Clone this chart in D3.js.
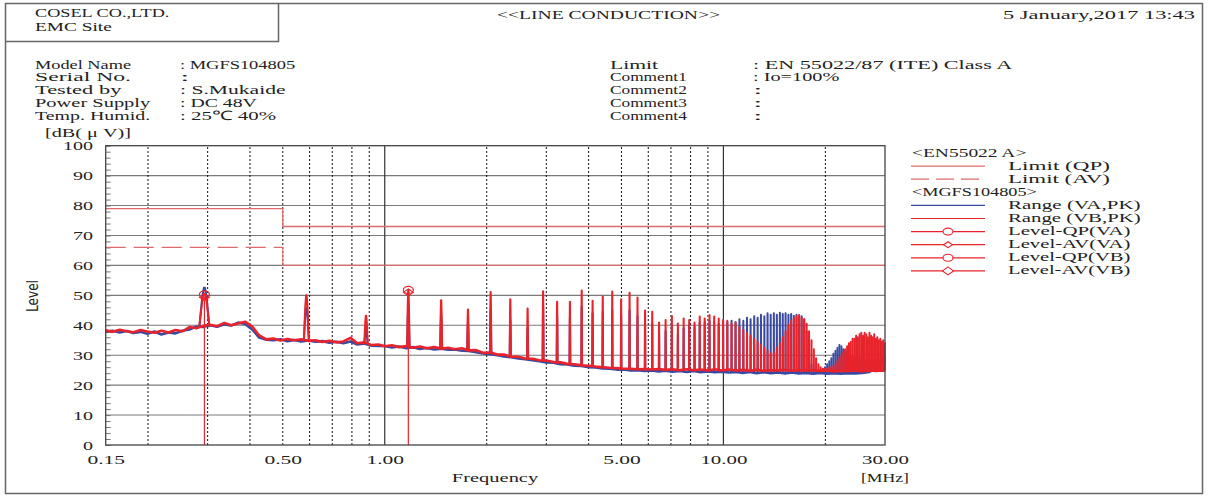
<!DOCTYPE html>
<html><head><meta charset="utf-8">
<script src="https://cdn.jsdelivr.net/npm/d3@7"></script>
<style>
body{margin:0;background:#fff;}
svg text{font-family:"Liberation Serif","Times New Roman",serif;fill:#222;}
</style></head><body>
<svg id="chart" width="1208" height="497"></svg>
<script>
// ---------------- DATA ----------------
const headerLeft = ["COSEL CO.,LTD.", "EMC Site"];
const headerTitle = "<<LINE CONDUCTION>>";
const headerDate = "5 January,2017 13:43";
const infoLeftLabels = ["Model Name","Serial No.","Tested by","Power Supply","Temp. Humid."];
const infoLeftValues = [": MGFS104805",":",": S.Mukaide",": DC 48V",": 25\u2103 40%"];
const infoRightLabels = ["Limit","Comment1","Comment2","Comment3","Comment4"];
const infoRightValues = [": EN 55022/87 (ITE) Class A",": Io=100%",":",":",":"];

const yTicks = [0,10,20,30,40,50,60,70,80,90,100];
const xTickValues = [0.15,0.5,1,5,10,30];
const xTickLabels = ["0.15","0.50","1.00","5.00","10.00","30.00"];
const xDottedGrid = [0.2,0.3,0.4,0.5,0.6,0.7,0.8,0.9,2,3,4,5,6,7,8,9,20];
const xSolidGrid = [1,10];

// limits EN55022 class A
const limitQPFreq = [0.15,0.5,0.5,30];
const limitQPLevel = [79,79,73,73];
const limitAVFreq = [0.15,0.5,0.5,30];
const limitAVLevel = [66,66,60,60];

// measured broadband floor (MHz, dBuV)
const baseFreq = [
  0.150,0.157,0.165,0.173,0.181,0.190,0.199,0.209,0.219,0.230,
  0.241,0.253,0.265,0.278,0.291,0.305,0.320,0.336,0.352,0.369,
  0.387,0.406,0.426,0.447,0.469,0.492,0.516,0.541,0.567,0.595,
  0.624,0.654,0.686,0.720,0.755,0.792,0.830,0.871,0.913,0.958,
  1.00,1.05,1.10,1.16,1.21,1.27,1.33,1.40,1.47,1.54,
  1.61,1.69,1.77,1.86,1.95,2.05,2.15,2.25,2.36,2.48,
  2.60,2.73,2.86,3.00,3.15,3.30,3.46,3.63,3.81,4.00,
  4.19,4.40,4.61,4.84,5.07,5.32,5.58,5.85,6.14,6.44,
  6.75,7.08,7.43,7.79,8.17,8.57,8.99,9.43,9.89,10.4,
  10.9,11.4,12.0,12.5,13.2,13.8,14.5,15.2,15.9,16.7,
  17.5,18.4,19.3,20.2,21.2,22.2,23.3,24.5,25.7,26.9,
  28.2,29.6,30.0];
const baseVB = [
  38.3,37.8,38.5,38.0,37.7,38.4,37.9,37.5,38.2,37.6,
  38.4,38.0,39.4,39.0,39.8,40.2,39.7,40.8,40.0,40.6,
  41.2,39.6,36.6,35.3,35.6,34.9,35.4,35.0,35.3,34.8,
  35.0,34.4,34.8,34.3,34.6,35.8,34.0,34.3,33.4,33.6,
  33.0,33.3,32.7,33.1,32.5,32.9,32.3,32.7,32.2,32.5,
  32.0,32.3,31.6,31.7,30.8,30.9,30.2,30.2,29.5,29.5,
  28.9,28.8,28.3,28.2,27.7,27.6,27.1,27.0,26.6,26.5,
  26.2,26.0,25.8,25.7,25.5,25.5,25.3,25.4,25.2,25.4,
  25.1,25.3,25.0,25.3,25.0,25.2,24.9,25.3,24.9,25.2,
  24.9,25.1,24.8,25.1,24.8,25.0,24.9,25.1,24.8,25.0,
  24.9,25.0,24.7,24.9,24.6,24.8,24.7,24.9,24.6,24.9,
  24.7,24.9,24.7];
const baseVA = [
  37.8,38.2,37.6,38.1,37.4,37.8,37.2,37.9,36.9,37.6,
  37.3,38.2,38.6,39.6,39.4,40.0,39.5,40.3,39.9,40.9,
  40.4,38.6,35.9,35.2,35.0,35.3,34.7,35.1,34.6,34.9,
  34.5,34.7,34.2,34.5,34.0,34.6,33.6,33.9,33.2,33.1,
  33.1,32.6,32.9,32.3,32.7,32.1,32.4,31.9,32.2,31.8,
  31.9,31.5,31.4,31.0,30.6,30.3,30.0,29.6,29.3,28.9,
  28.7,28.3,28.0,27.6,27.5,27.0,26.9,26.5,26.4,26.0,
  25.9,25.6,25.5,25.2,25.2,24.9,25.0,24.7,24.9,24.6,
  24.8,24.5,24.7,24.4,24.7,24.3,24.6,24.3,24.5,24.2,
  24.4,24.1,24.4,24.0,24.3,24.0,24.2,23.9,24.2,23.9,
  24.1,23.8,24.1,23.8,24.0,23.8,24.0,23.9,24.1,24.4,
  25.6,26.6,27.4];

// switching harmonics (MHz) and their peak levels (dBuV)
const harmFreq = [0.2935,0.587,0.8805,1.174,1.4675,1.761,2.0545,2.348,2.6415,2.935,3.2285,3.522,3.8155,4.109,4.4025,4.696,4.9895,5.283,5.5765,5.870,6.1635,6.457,6.7505,7.044,7.3375,7.631,7.9245,8.218,8.5115,8.805,9.0985,9.392,9.6855,9.979,10.27,10.57,10.86,11.15,11.45,11.74,12.03,12.33,12.62,12.91,13.21,13.50,13.79,14.09,14.38,14.68,14.97,15.26,15.56,15.85,16.14,16.44,16.73,17.02,17.32,17.61,17.90,18.20,18.49,18.78,19.08,19.37,19.66,19.96,20.25,20.55,20.84,21.13,21.43,21.72,22.01,22.31,22.60,22.89,23.19,23.48,23.77,24.07,24.36,24.65,24.95,25.24,25.53,25.83,26.12,26.42,26.71,27.00,27.30,27.59,27.88,28.18,28.47,28.76,29.06,29.35,29.64,29.94];
const peakVB = [50.5,50.0,43.2,51.8,48.4,45.3,51.1,48.7,45.6,51.4,47.9,47.9,51.6,48.2,49.6,51.3,48.7,50.9,49.3,44.9,44.5,40.9,41.8,43.1,40.6,42.3,41.8,40.9,42.9,42.3,43.4,42.9,42.3,41.8,
  41.5,40.5,41,39.5,38.5,37.5,36.5,35.5,34.5,33.5,32.5,31.5,30.5,31,32.5,34,36,38,40,41.5,42.5,43,43.4,42.5,42,40.5,38,35,32,29,27,26,25.5,25.5,25.5,26,26,26.5,27,28,29,30,31,32,33,34,34.5,35.5,35.5,36.5,36,37,37.5,36.5,37.5,37,36,37.5,36.5,36,37,35.5,36,35,35.5,34.5,35,34];
const peakVA = [52.5,45.7,38.4,46.0,43.0,40.7,45.0,41.8,39.0,46.0,42.9,42.4,46.2,44.0,44.5,45.0,43.5,45.0,43.0,40.0,40.5,37.0,38.0,39.0,37.0,39.0,40.0,39.5,41.0,41.0,41.5,41.0,40.5,41.0,
  41,41.5,41,42,41.5,42.5,42,43,42.5,43.5,43,44,43.5,44,43.5,44.2,43.8,44,43.5,43.8,43.2,43.5,42.8,43,42,38,32,27,25.5,25,25,25,25.5,26,27,28,29,30.5,31.5,32.5,33.4,33,32,31.5,31,30.5,30,29.5,29.5,29,29,29,28.5,28.5,28.5,28.5,28,28,28,28,28,28,28.5,28.5,28.5,29,29,29];

// final measurement markers (VB)
const markerFreq = [0.2935,1.174];
const markerQP = [50.3,51.8];
const markerAV = [49.4,51.0];

const legendItems = [
  {label:"<EN55022 A>", type:"head"},
  {label:"Limit (QP)", type:"line", color:"#e06a6a"},
  {label:"Limit (AV)", type:"dash", color:"#e06a6a"},
  {label:"<MGFS104805>", type:"head"},
  {label:"Range (VA,PK)", type:"line", color:"#3a4aa0"},
  {label:"Range (VB,PK)", type:"line", color:"#e8232b"},
  {label:"Level-QP(VA)", type:"circle", color:"#e8232b"},
  {label:"Level-AV(VA)", type:"diamondS", color:"#e8232b"},
  {label:"Level-QP(VB)", type:"circle", color:"#e8232b"},
  {label:"Level-AV(VB)", type:"diamond", color:"#e8232b"}
];

// ---------------- DRAW ----------------
const svg = d3.select("#chart");
const CW = 9.6, FS = 13;
const RED = "#e8232b", BLUE = "#3a4aa0", LIM = "#e06a6a";
function units(s){ let u=0; for(const ch of s){ u += ch.charCodeAt(0) > 0x2000 ? 2 : 1; } return u; }
function txt(g, s, x, y, o={}){
  const t = g.append("text").attr("x",x).attr("y",y).text(s)
    .attr("font-size", o.fs||FS)
    .attr("textLength", o.len || units(s)*(o.cw||CW))
    .attr("lengthAdjust","spacingAndGlyphs");
  if(o.anchor) t.attr("text-anchor",o.anchor);
  return t;
}

// frames
svg.append("rect").attr("x",5.5).attr("y",3.5).attr("width",1197).attr("height",490)
  .attr("fill","none").attr("stroke","#666").attr("stroke-width",1.5);
svg.append("path").attr("d","M5.5,41.5H278.5V3.5").attr("fill","none").attr("stroke","#666").attr("stroke-width",1.5);

txt(svg, headerLeft[0], 35, 17);
txt(svg, headerLeft[1], 35, 31);
txt(svg, headerTitle, 497, 19, {len:223});
txt(svg, headerDate, 1195, 19, {anchor:"end"});

infoLeftLabels.forEach((s,i)=> txt(svg, s, 35, 68.5+i*12.8));
infoLeftValues.forEach((s,i)=> txt(svg, s, 180, 68.5+i*12.8));
infoRightLabels.forEach((s,i)=> txt(svg, s, 610, 68.5+i*12.8));
infoRightValues.forEach((s,i)=> txt(svg, s, 753, 68.5+i*12.8));
txt(svg, "[dB( \u03bc V)]", 45, 137, {len:86});

// scales
const x = d3.scaleLog().domain([0.15,30]).range([105.7,885]);
const y = d3.scaleLinear().domain([0,100]).range([445,145.7]);
const plot = svg.append("g");

// gridlines
plot.selectAll(".hg").data(yTicks.filter(d=>d>0&&d<100)).join("line")
  .attr("x1",x(0.15)).attr("x2",x(30)).attr("y1",d=>y(d)).attr("y2",d=>y(d))
  .attr("stroke","#7a7a7a").attr("stroke-width",1.1);
plot.selectAll(".vd").data(xDottedGrid).join("line")
  .attr("x1",d=>x(d)).attr("x2",d=>x(d)).attr("y1",y(0)).attr("y2",y(100))
  .attr("stroke","#111").attr("stroke-width",1).attr("stroke-dasharray","2,2");
plot.selectAll(".vs").data(xSolidGrid).join("line")
  .attr("x1",d=>x(d)).attr("x2",d=>x(d)).attr("y1",y(0)).attr("y2",y(100))
  .attr("stroke","#333").attr("stroke-width",1.2);

// minor ticks on left
const minor = plot.append("g").attr("transform",`translate(${x(0.15)},0)`)
  .call(d3.axisLeft(y).tickValues(d3.range(0,101,2)).tickSize(-5).tickFormat(""));
minor.select(".domain").remove();
minor.selectAll("line").attr("stroke","#777");

// limits
const lineGen = d3.line().x(d=>x(d[0])).y(d=>y(d[1]));
plot.append("path").datum(limitQPFreq.map((f,i)=>[f,limitQPLevel[i]]))
  .attr("d",lineGen).attr("fill","none").attr("stroke",LIM).attr("stroke-width",1.3);
plot.append("path").datum(limitAVFreq.slice(0,2).map((f,i)=>[f,limitAVLevel[i]]))
  .attr("d",lineGen).attr("fill","none").attr("stroke",LIM).attr("stroke-width",1.3).attr("stroke-dasharray","20,8");
plot.append("path").datum(limitAVFreq.slice(1).map((f,i)=>[f,limitAVLevel[i+1]]))
  .attr("d",lineGen).attr("fill","none").attr("stroke",LIM).attr("stroke-width",1.1);

// traces
const rbw = 0.010;
const bis = d3.bisector(d=>d).center;
function drawTrace(base, peaks, color, sw){
  const g = plot.append("g");
  g.append("path").datum(baseFreq.map((f,i)=>[f,base[i]]))
    .attr("d",lineGen).attr("fill","none").attr("stroke",color).attr("stroke-width",sw).attr("stroke-linejoin","round");
  harmFreq.forEach((f,i)=>{
    const b = base[bis(baseFreq,f)], p = peaks[i];
    if(p <= b) return;
    const pts = [[f-rbw,b],[f-rbw*0.45,b+(p-b)*0.75],[f-rbw*0.12,p],[f+rbw*0.12,p],[f+rbw*0.45,b+(p-b)*0.75],[f+rbw,b]];
    g.append("path").datum(pts).attr("d",lineGen).attr("fill","none")
      .attr("stroke",color).attr("stroke-width",2).attr("stroke-linejoin","round");
  });
}
drawTrace(baseVA, peakVA, BLUE, 2.6);
drawTrace(baseVB, peakVB, RED, 2.6);

// markers
plot.selectAll(".mk").data(markerFreq).join("line")
  .attr("x1",d=>x(d)).attr("x2",d=>x(d)).attr("y1",y(0)).attr("y2",(d,i)=>y(markerAV[i]))
  .attr("stroke",RED).attr("stroke-width",1.2);
plot.selectAll(".mq").data(markerFreq).join("ellipse")
  .attr("cx",d=>x(d)).attr("cy",(d,i)=>y(markerQP[i])).attr("rx",5).attr("ry",3.5)
  .attr("fill","none").attr("stroke",RED).attr("stroke-width",1.2);
plot.selectAll(".ma").data(markerFreq).join("path")
  .attr("d",(d,i)=>{const cx=x(d), cy=y(markerAV[i]); return `M${cx-5},${cy}L${cx},${cy-3.5}L${cx+5},${cy}L${cx},${cy+3.5}Z`;})
  .attr("fill","none").attr("stroke",RED).attr("stroke-width",1.1);

// plot frame
plot.append("rect").attr("x",x(0.15)).attr("y",y(100)).attr("width",x(30)-x(0.15)).attr("height",y(0)-y(100))
  .attr("fill","none").attr("stroke","#444").attr("stroke-width",1.3);

// axes labels
const ya = svg.append("g").attr("transform",`translate(${x(0.15)},0)`)
  .call(d3.axisLeft(y).tickValues(yTicks).tickSize(0).tickPadding(12.7));
ya.select(".domain").remove();
ya.selectAll("text").attr("font-size",FS).attr("font-family","Liberation Serif").attr("fill","#222")
  .each(function(){ d3.select(this).attr("textLength", this.textContent.length*10).attr("lengthAdjust","spacingAndGlyphs"); });

const xa = svg.append("g").attr("transform",`translate(0,${y(0)})`)
  .call(d3.axisBottom(x).tickValues(xTickValues).tickFormat((d,i)=>xTickLabels[i]).tickSize(0).tickPadding(10));
xa.select(".domain").remove();
xa.selectAll("text").attr("font-size",FS).attr("font-family","Liberation Serif").attr("fill","#222")
  .each(function(){ d3.select(this).attr("textLength", this.textContent.length*9.4).attr("lengthAdjust","spacingAndGlyphs"); });

txt(svg, "Frequency", 495, 482, {anchor:"middle"});
txt(svg, "[MHz]", 885, 482, {anchor:"middle"});
svg.append("text").attr("transform","translate(38,296) rotate(-90)")
  .attr("text-anchor","middle").attr("font-size",15)
  .attr("textLength",32).attr("lengthAdjust","spacingAndGlyphs")
  .style("font-family","'DejaVu Sans Condensed','Noto Sans',sans-serif").style("font-weight","normal")
  .attr("fill","#555").text("Level");

// legend
const lg = svg.append("g");
legendItems.forEach((it,i)=>{
  const cy = 152 + i*13.1;
  if(it.type==="head"){ txt(lg, it.label, 912, cy+4.5, {cw:10.4}); return; }
  txt(lg, it.label, 1008, cy+4.5, {cw:10.2});
  const ly = cy+1;
  const l = lg.append("line").attr("x1",911).attr("x2",985).attr("y1",ly).attr("y2",ly)
    .attr("stroke",it.color).attr("stroke-width",1.2);
  if(it.type==="dash") l.attr("stroke-dasharray","18,7");
  if(it.type==="circle") lg.append("ellipse").attr("cx",948).attr("cy",ly).attr("rx",5).attr("ry",3.5)
    .attr("fill","#fff").attr("stroke",it.color).attr("stroke-width",1.1);
  if(it.type==="diamond"||it.type==="diamondS"){
    const w = it.type==="diamond"?5.5:4.5, h = it.type==="diamond"?4:3;
    lg.append("path").attr("d",`M${948-w},${ly}L948,${ly-h}L${948+w},${ly}L948,${ly+h}Z`)
      .attr("fill","#fff").attr("stroke",it.color).attr("stroke-width",1.1);
  }
});
</script>
</body></html>
